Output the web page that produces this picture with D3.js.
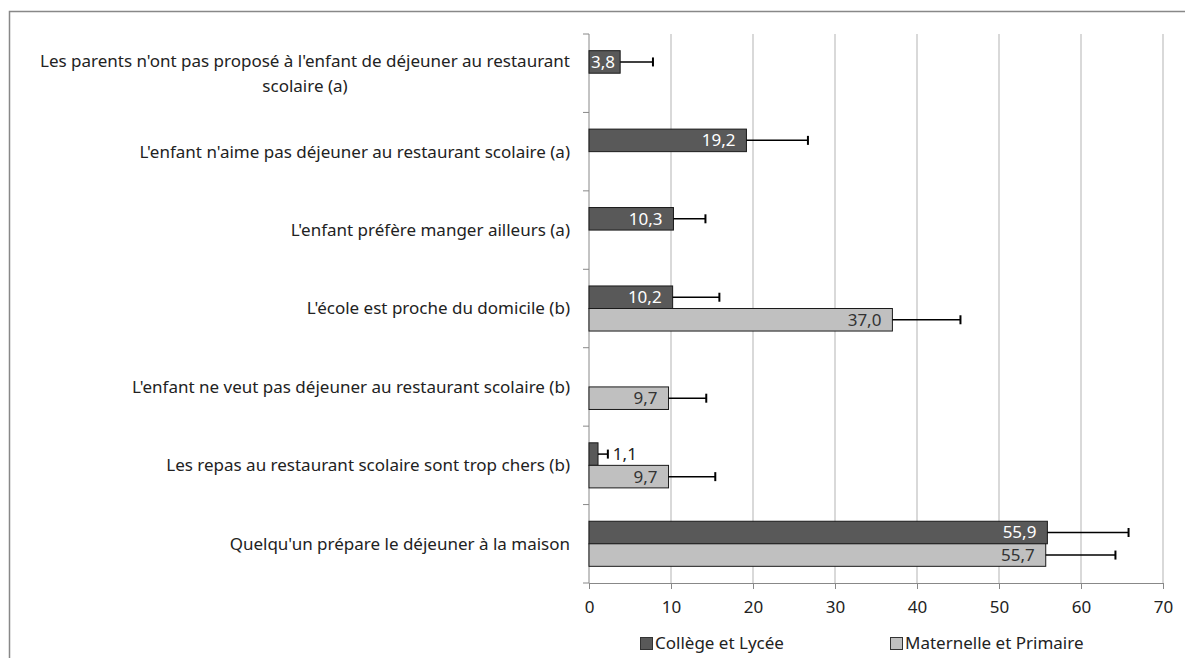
<!DOCTYPE html>
<html>
<head>
<meta charset="utf-8">
<script src="https://cdn.jsdelivr.net/npm/d3@7"></script>
<style>
  body { margin: 0; background: #fff; }
  text { font-family: "Noto Sans", "Open Sans", sans-serif; }
</style>
</head>
<body>
<div id="chart"></div>
<script>
// categories, top to bottom
const categories = [
  "Les parents n'ont pas proposé à l'enfant de déjeuner au restaurant scolaire (a)",
  "L'enfant n'aime pas déjeuner au restaurant scolaire (a)",
  "L'enfant préfère manger ailleurs (a)",
  "L'école est proche du domicile (b)",
  "L'enfant ne veut pas déjeuner au restaurant scolaire (b)",
  "Les repas au restaurant scolaire sont trop chers (b)",
  "Quelqu'un prépare le déjeuner à la maison"
];
const seriesNames = ["Collège et Lycée", "Maternelle et Primaire"];
// null = no bar
const college = [3.8, 19.2, 10.3, 10.2, null, 1.1, 55.9];
const collegeHigh = [7.8, 26.7, 14.2, 15.9, null, 2.3, 65.8];
const maternelle = [null, null, null, 37.0, 9.7, 9.7, 55.7];
const maternelleHigh = [null, null, null, 45.3, 14.3, 15.4, 64.2];
const xTicks = [0, 10, 20, 30, 40, 50, 60, 70];

const W = 1185, H = 658;
const plotLeft = 589, plotRight = 1163, plotTop = 34, plotBottom = 583;
const colors = ["#595959", "#c0c0c0"];
const fs = 17;

const svg = d3.select("#chart").append("svg")
  .attr("width", W)
  .attr("height", H);

// outer frame
svg.append("rect")
  .attr("x", 9.5).attr("y", 11.5)
  .attr("width", W + 10).attr("height", H + 10)
  .attr("fill", "none").attr("stroke", "#888").attr("stroke-width", 1.5);

const x = d3.scaleLinear().domain([0, 70]).range([plotLeft, plotRight]);
const y = d3.scaleBand().domain(categories).range([plotTop, plotBottom]);
const sub = d3.scaleBand().domain(seriesNames).range([0, y.bandwidth()]).paddingOuter(0.74);

// gridlines
svg.append("g").selectAll("line")
  .data(xTicks.slice(1))
  .enter().append("line")
  .attr("x1", d => x(d)).attr("x2", d => x(d))
  .attr("y1", plotTop).attr("y2", plotBottom)
  .attr("stroke", "#b3b3b3").attr("stroke-width", 1);

// x axis
const xAxis = svg.append("g")
  .attr("transform", `translate(0,${plotBottom})`)
  .call(d3.axisBottom(x).tickValues(xTicks).tickSize(6).tickPadding(12).tickFormat(d3.format("d")));
xAxis.select(".domain").attr("stroke", "#888");
xAxis.selectAll(".tick line").attr("stroke", "#888");
xAxis.selectAll(".tick text").attr("font-size", fs).attr("fill", "#222")
  .style("font-family", "'Noto Sans', sans-serif");

// y axis line + boundary ticks
const yEdges = categories.map(c => y(c)).concat([plotBottom]);
svg.append("line")
  .attr("x1", plotLeft).attr("x2", plotLeft).attr("y1", plotTop).attr("y2", plotBottom)
  .attr("stroke", "#888");
svg.append("g").selectAll("line")
  .data(yEdges)
  .enter().append("line")
  .attr("x1", plotLeft - 6).attr("x2", plotLeft)
  .attr("y1", d => d).attr("y2", d => d)
  .attr("stroke", "#888");

// category labels, wrapped and centred like Excel
const labelRight = 570, maxW = 540;
const labels = svg.append("g").attr("font-size", fs).attr("fill", "#222");
categories.forEach(c => {
  const t = labels.append("text").attr("text-anchor", "middle");
  const words = c.split(" ");
  let lines = [], cur = [];
  words.forEach(w => {
    t.text(cur.concat([w]).join(" "));
    if (t.node().getComputedTextLength() > maxW && cur.length) {
      lines.push(cur.join(" "));
      cur = [w];
    } else cur.push(w);
  });
  lines.push(cur.join(" "));
  t.text(null);
  let wMax = 0;
  lines.forEach(l => {
    const tmp = labels.append("text").text(l);
    wMax = Math.max(wMax, tmp.node().getComputedTextLength());
    tmp.remove();
  });
  const cx = labelRight - wMax / 2;
  const cy = y(c) + y.bandwidth() / 2;
  const lh = 25;
  lines.forEach((l, i) => {
    t.append("tspan")
      .attr("x", cx)
      .attr("y", cy + (i - (lines.length - 1) / 2) * lh)
      .attr("dy", "0.35em")
      .text(l);
  });
});

// bars
const seriesVals = [college, maternelle];
const seriesHigh = [collegeHigh, maternelleHigh];
const fmt = v => v.toFixed(1).replace(".", ",");
seriesNames.forEach((s, si) => {
  const data = categories.map((c, i) => ({ c, v: seriesVals[si][i], hi: seriesHigh[si][i] }))
    .filter(d => d.v != null);
  const g = svg.append("g");
  g.selectAll("rect")
    .data(data)
    .enter().append("rect")
    .attr("x", x(0))
    .attr("y", d => y(d.c) + sub(s))
    .attr("width", d => x(d.v) - x(0))
    .attr("height", sub.bandwidth())
    .attr("fill", colors[si])
    .attr("stroke", "#1a1a1a").attr("stroke-width", 1);

  // error bars
  const cy = d => y(d.c) + sub(s) + sub.bandwidth() / 2;
  g.selectAll("line.err")
    .data(data)
    .enter().append("line")
    .attr("class", "err")
    .attr("x1", d => x(d.v)).attr("x2", d => x(d.hi))
    .attr("y1", cy).attr("y2", cy)
    .attr("stroke", "#000").attr("stroke-width", 1.5);
  g.selectAll("line.cap")
    .data(data)
    .enter().append("line")
    .attr("class", "cap")
    .attr("x1", d => x(d.hi)).attr("x2", d => x(d.hi))
    .attr("y1", d => cy(d) - 4.5).attr("y2", d => cy(d) + 4.5)
    .attr("stroke", "#000").attr("stroke-width", 2);

  // value labels: inside end, or outside past the whisker when the bar is tiny
  g.selectAll("text")
    .data(data)
    .enter().append("text")
    .attr("y", d => cy(d))
    .attr("dy", "0.35em")
    .attr("font-size", fs)
    .attr("fill", d => d.v < 3 ? "#222" : (si === 0 ? "#fff" : "#333"))
    .text(d => fmt(d.v))
    .each(function(d) {
      const tw = this.getComputedTextLength();
      let tx;
      if (d.v < 3) tx = x(d.hi) + 5;
      else tx = Math.max(x(0) + 2, x(d.v) - 11 - tw);
      d3.select(this).attr("x", tx);
    });
});

// legend
const legendX = [640, 890];
const legend = svg.append("g");
seriesNames.forEach((s, i) => {
  legend.append("rect")
    .attr("x", legendX[i] + 0.5).attr("y", 637.5)
    .attr("width", 12).attr("height", 12)
    .attr("fill", colors[i]).attr("stroke", "#333");
  legend.append("text")
    .attr("x", legendX[i] + 15).attr("y", 643)
    .attr("dy", "0.35em")
    .attr("font-size", fs).attr("fill", "#222")
    .text(s);
});
</script>
</body>
</html>
